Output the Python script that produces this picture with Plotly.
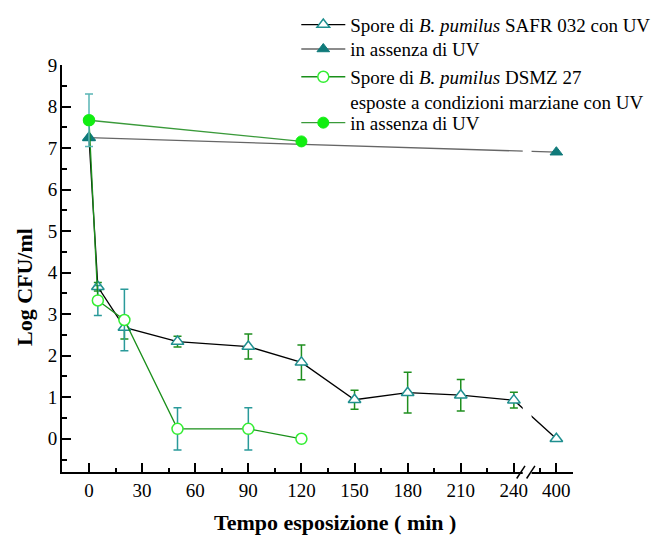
import plotly.graph_objects as go

# ---------------- data ----------------
t_safr_uv = [0, 5, 20, 50, 90, 120, 150, 180, 210, 240, 400]
safr_uv = [7.25, 3.66, 2.68, 2.34, 2.22, 1.84, 0.94, 1.11, 1.05, 0.93, 0.0]
safr_uv_err = [None, 0.10, 0.28, 0.13, 0.30, 0.42, 0.23, 0.49, 0.38, 0.19, None]

t_safr_dark = [0, 400]
safr_dark = [7.25, 6.90]

t_dsmz_uv = [0, 5, 20, 50, 90, 120]
dsmz_uv = [7.67, 3.33, 2.86, 0.24, 0.24, 0.0]
dsmz_uv_err = [None, 0.36, 0.74, 0.51, 0.51, None]

t_dsmz_dark = [0, 120]
dsmz_dark = [7.67, 7.16]
dsmz_dark_err = [0.63, None]

x_ticks = [0, 30, 60, 90, 120, 150, 180, 210, 240, 400]
x_ticklabels = [str(v) for v in x_ticks]

names = [
    "Spore di <i>B. pumilus</i> SAFR 032 con UV",
    "in assenza di UV",
    "Spore di <i>B. pumilus</i> DSMZ 27<br>esposte a condizioni marziane con UV",
    "in assenza di UV",
]
x_title = "<b>Tempo esposizione ( min )</b>"
y_title = "<b>Log CFU/ml</b>"

# broken time axis: values after 240 min are compressed
BREAK_START = 240
POST_BREAK_SCALE = 0.15


def axis_pos(t):
    return t if t <= BREAK_START else BREAK_START + (t - BREAK_START) * POST_BREAK_SCALE


def pos_list(ts):
    return [axis_pos(t) for t in ts]


FONT = "Liberation Serif"
TEAL = "#1f8f8f"
TEAL_DARK = "#107a7a"
GREEN_ERR = "#1f8f1f"

fig = go.Figure()

fig.add_trace(go.Scatter(
    x=pos_list(t_safr_uv), y=safr_uv, name=names[0], mode="lines+markers",
    line=dict(color="black", width=1.3),
    marker=dict(symbol="triangle-up", size=11, color="white",
                line=dict(color=TEAL, width=1.5)),
    error_y=dict(type="data", array=safr_uv_err, color=GREEN_ERR,
                 thickness=1.5, width=4),
    legend="legend",
))
fig.add_trace(go.Scatter(
    x=pos_list(t_safr_dark), y=safr_dark, name=names[1], mode="lines+markers",
    line=dict(color="#666666", width=1.3),
    marker=dict(symbol="triangle-up", size=11, color=TEAL_DARK,
                line=dict(color=TEAL_DARK, width=1)),
    legend="legend2",
))
fig.add_trace(go.Scatter(
    x=pos_list(t_dsmz_uv), y=dsmz_uv, name=names[2], mode="lines+markers",
    line=dict(color="#1a8f1a", width=1.3),
    marker=dict(symbol="circle", size=11, color="white",
                line=dict(color="#33ee33", width=1.5)),
    error_y=dict(type="data", array=dsmz_uv_err, color="#2a9a9a",
                 thickness=1.5, width=4),
    legend="legend3",
))
fig.add_trace(go.Scatter(
    x=pos_list(t_dsmz_dark), y=dsmz_dark, name=names[3], mode="lines+markers",
    line=dict(color="#3a9a3a", width=1.3),
    marker=dict(symbol="circle", size=11, color="#11ee11",
                line=dict(color="#11ee11", width=1)),
    error_y=dict(type="data", array=dsmz_dark_err, color="#5ab5b5",
                 thickness=1.5, width=4),
    legend="legend4",
))

# axis break: gap + two slashes
gap_x0, gap_x1 = 245, 250
fig.add_shape(type="rect", xref="x", yref="paper", x0=gap_x0, x1=gap_x1,
              y0=-0.012, y1=1.0, fillcolor="white", line=dict(width=0),
              layer="above")
for x0, x1 in [(241.6, 246.3), (247.2, 251.9)]:
    fig.add_shape(type="line", xref="x", yref="paper", x0=x0, x1=x1,
                  y0=-0.016, y1=0.015, line=dict(color="black", width=1.5),
                  layer="above")

minor_x = [15, 45, 75, 105, 135, 165, 195, 225, axis_pos(400) - 9.4, axis_pos(400) + 9.4]

fig.update_xaxes(
    range=[-15.25, 273.4], showline=True, linecolor="black", linewidth=2,
    showgrid=False, zeroline=False,
    tickmode="array", tickvals=pos_list(x_ticks), ticktext=x_ticklabels,
    ticks="inside", ticklen=9, tickwidth=1.5, tickcolor="black",
    tickfont=dict(family=FONT, size=19, color="black"),
    minor=dict(tickmode="array", tickvals=minor_x, ticks="inside", ticklen=4,
               tickwidth=1.5, tickcolor="black", showgrid=False),
)
fig.update_yaxes(
    range=[-0.8, 9], showline=True, linecolor="black", linewidth=2,
    showgrid=False, zeroline=False,
    tick0=0, dtick=1, ticks="inside", ticklen=9, tickwidth=1.5, tickcolor="black",
    tickfont=dict(family=FONT, size=19, color="black"),
    ticklabelstandoff=-1,
    minor=dict(dtick=0.5, ticks="inside", ticklen=5, tickwidth=1.5,
               tickcolor="black", showgrid=False),
)

# axis titles (placed as text annotations to match the original offsets)
fig.add_annotation(text=x_title, xref="paper", yref="paper", x=0.535, y=-0.125,
                   xanchor="center", yanchor="middle", showarrow=False,
                   font=dict(family=FONT, size=22, color="black"))
fig.add_annotation(text=y_title, xref="paper", yref="paper", x=-0.072, y=0.455,
                   xanchor="center", yanchor="middle", showarrow=False, textangle=-90,
                   font=dict(family=FONT, size=22, color="black"))

legend_common = dict(
    xanchor="left", bgcolor="rgba(0,0,0,0)", borderwidth=0,
    font=dict(family=FONT, size=19, color="black"), itemwidth=44,
)
LEG_X = 0.4585
fig.update_layout(
    width=659, height=536,
    margin=dict(l=62, r=86, t=65, b=64, autoexpand=False),
    paper_bgcolor="white", plot_bgcolor="white",
    font=dict(family=FONT, color="black"),
    showlegend=True,
    legend=dict(x=LEG_X, y=1.099, yanchor="middle", **legend_common),
    legend2=dict(x=LEG_X, y=1.039, yanchor="middle", **legend_common),
    legend3=dict(x=LEG_X, y=0.940, yanchor="middle", valign="top", **legend_common),
    legend4=dict(x=LEG_X, y=0.858, yanchor="middle", **legend_common),
)

fig.write_html("out.html")
